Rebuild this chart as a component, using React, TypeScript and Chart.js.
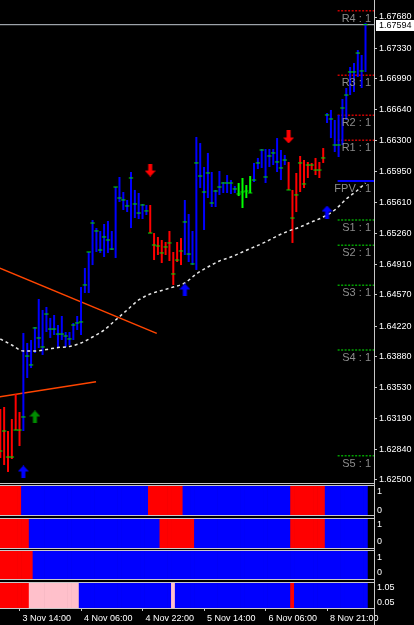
import React, { useEffect, useRef } from 'react';
import { Chart, registerables } from 'chart.js';

Chart.register(...registerables);

// ---------------- data ----------------
const barHigh = [
  1.63294, 1.63317, 1.63048, 1.63182, 1.63462, 1.63261, 1.64145, 1.64033, 1.64066, 1.64212,
  1.64525, 1.64402, 1.64436, 1.64313, 1.64346, 1.64234, 1.64335, 1.64156, 1.64156, 1.64257,
  1.64335, 1.64659, 1.64872, 1.65051, 1.65409, 1.65319, 1.65286, 1.65364, 1.65398, 1.65286,
  1.65778, 1.65890, 1.65722, 1.65633, 1.65946, 1.65745, 1.65711, 1.65588, 1.65577, 1.65577,
  1.65263, 1.65219, 1.65185, 1.65163, 1.65286, 1.65051, 1.65163, 1.65207, 1.65633, 1.65476,
  1.65286, 1.66338, 1.66270, 1.66002, 1.66159, 1.65946, 1.65745, 1.65957, 1.65834, 1.65912,
  1.65856, 1.65789, 1.65823, 1.65879, 1.65800, 1.65901, 1.66047, 1.66103, 1.66203, 1.66203,
  1.66203, 1.66203, 1.66326, 1.66192, 1.66136, 1.66058, 1.65745, 1.65935, 1.66125, 1.66080,
  1.66058, 1.66047, 1.66103, 1.66058, 1.66214, 1.66606, 1.66640, 1.66528, 1.66584, 1.66763,
  1.66886, 1.67121, 1.67165, 1.67311, 1.67255, 1.67613,
];
const barLow = [
  1.62746, 1.62668, 1.62590, 1.62735, 1.63059, 1.62880, 1.63048, 1.63641, 1.63753, 1.63921,
  1.63977, 1.63899, 1.64156, 1.64089, 1.64122, 1.63988, 1.64066, 1.63988, 1.64010, 1.64066,
  1.64178, 1.64122, 1.64592, 1.64592, 1.64905, 1.65051, 1.65040, 1.64995, 1.65040, 1.65073,
  1.64984, 1.65610, 1.65521, 1.65498, 1.65319, 1.65431, 1.65420, 1.65420, 1.65465, 1.65263,
  1.64961, 1.65017, 1.64928, 1.65017, 1.64950, 1.64682, 1.64939, 1.64905, 1.65017, 1.64939,
  1.64905, 1.64850, 1.65767, 1.65297, 1.65655, 1.65554, 1.65554, 1.65689, 1.65711, 1.65711,
  1.65700, 1.65711, 1.65677, 1.65543, 1.65655, 1.65711, 1.65834, 1.65979, 1.65991, 1.65823,
  1.66002, 1.66024, 1.65946, 1.65856, 1.66024, 1.65745, 1.65152, 1.65498, 1.65722, 1.65767,
  1.65879, 1.65968, 1.65912, 1.65879, 1.66047, 1.66494, 1.66326, 1.66170, 1.66114, 1.66248,
  1.66528, 1.66807, 1.66841, 1.67009, 1.66886, 1.67065,
];
const barClose = [
  1.62824, 1.63048, 1.62757, 1.62757, 1.63059, 1.63059, 1.63205, 1.63887, 1.63787, 1.64201,
  1.64089, 1.63988, 1.64357, 1.64189, 1.64189, 1.64133, 1.64133, 1.64111, 1.64078, 1.64234,
  1.64257, 1.64268, 1.64682, 1.65051, 1.65375, 1.65286, 1.65073, 1.65219, 1.65185, 1.65084,
  1.65778, 1.65655, 1.65633, 1.65566, 1.65879, 1.65588, 1.65487, 1.65577, 1.65510, 1.65263,
  1.65129, 1.65118, 1.65040, 1.65107, 1.65152, 1.64805, 1.64961, 1.65062, 1.65387, 1.65028,
  1.64917, 1.66047, 1.65901, 1.65722, 1.65935, 1.65599, 1.65733, 1.65778, 1.65823, 1.65823,
  1.65823, 1.65756, 1.65700, 1.65722, 1.65733, 1.65711, 1.65856, 1.66047, 1.66192, 1.65890,
  1.66125, 1.66159, 1.66058, 1.65991, 1.66080, 1.65745, 1.65431, 1.65689, 1.66047, 1.65812,
  1.66024, 1.66024, 1.65968, 1.65968, 1.66103, 1.66584, 1.66539, 1.66248, 1.66248, 1.66662,
  1.66807, 1.67065, 1.67065, 1.67277, 1.67076, 1.67594,
];
// bar colour runs: r = bear (red), b = bull (blue), g = lime
const barColorRuns: [string, number][] = [['r', 6], ['b', 33], ['r', 9], ['b', 14], ['g', 4], ['b', 9], ['r', 10], ['b', 11]];

const priceTicks = [1.6768, 1.6733, 1.6699, 1.6664, 1.663, 1.6595, 1.6561, 1.6526, 1.6491, 1.6457, 1.6422, 1.6388, 1.6353, 1.6319, 1.6284, 1.625];
const currentPrice = 1.67594;

const maBars = [1, 4, 7, 10, 13, 16, 19, 22, 25, 28, 31, 34, 37, 40, 43, 46, 49, 52, 55, 58, 61, 64, 67, 70, 73, 76, 79, 82, 85, 88, 91, 94, 96];
const maValues = [
  1.64078, 1.6401, 1.63943, 1.63943, 1.6396, 1.63982, 1.63994, 1.64033, 1.641, 1.64178,
  1.6429, 1.64402, 1.64514, 1.64581, 1.6462, 1.64659, 1.64704, 1.64805, 1.64883, 1.6495,
  1.64995, 1.65051, 1.65107, 1.65163, 1.6523, 1.65286, 1.65331, 1.65387, 1.65442, 1.65521,
  1.65644, 1.65745, 1.65823,
];

const pivotNames = ['R4', 'R3', 'R2', 'R1', 'FPV', 'S1', 'S2', 'S3', 'S4', 'S5'];
const pivotLevels = [1.67751, 1.67028, 1.6658, 1.66301, 1.65845, 1.65409, 1.65126, 1.64678, 1.63954, 1.62772];
const pivotSessionStart = 88.75;

const trendDownBars = [0.9, 41.7];
const trendDownPrices = [1.64869, 1.64141];
const trendUpBars = [0.9, 25.9];
const trendUpPrices = [1.63432, 1.636];

const sellArrowBars = [40, 76];
const sellArrowPrices = [1.65968, 1.66338];
const buyArrowBars = [7, 49, 86];
const buyArrowPrices = [1.6259, 1.64626, 1.65498];
const signalArrowBars = [10];
const signalArrowPrices = [1.63205];

const timeTickBars = [6, 22, 38, 54, 70, 86];
const timeLabels = ['3 Nov 14:00', '4 Nov 06:00', '4 Nov 22:00', '5 Nov 14:00', '6 Nov 06:00', '8 Nov 21:00'];

const panel1Runs: [string, number][] = [['r', 6], ['b', 33], ['r', 9], ['b', 28], ['r', 9], ['b', 11]];
const panel2Runs: [string, number][] = [['r', 8], ['b', 34], ['r', 9], ['b', 25], ['r', 9], ['b', 11]];
const panel3Runs: [string, number][] = [['r', 9], ['b', 87]];
const panel4Runs: [string, number][] = [['r', 8], ['p', 13], ['b', 24], ['p', 1], ['b', 30], ['r', 1], ['b', 19]];

// ---------------- helpers ----------------
const COLORS: Record<string, string> = { r: '#FF0000', b: '#0000FF', g: '#00FF00', p: '#FFC0CB' };
const X_MIN = 0.922;
const X_MAX = 98.21;
const FONT = 'Liberation Sans';
const FRAME = '#C8C8C8';

function expandRuns(runs: [string, number][]) {
  const out: string[] = [];
  runs.forEach(([s, n]) => {
    for (let k = 0; k < n; k++) out.push(s);
  });
  return out;
}

function noPad(s: any) {
  s.paddingTop = 0;
  s.paddingBottom = 0;
  s.paddingLeft = 0;
  s.paddingRight = 0;
}

function makeArrow(color: string, up: boolean) {
  const c = document.createElement('canvas');
  c.width = 11;
  c.height = 13;
  const g = c.getContext('2d')!;
  g.fillStyle = color;
  const pts = [[5.5, 0], [11, 6], [7.5, 6], [7.5, 13], [3.5, 13], [3.5, 6], [0, 6]];
  g.beginPath();
  pts.forEach(([x, y], i) => {
    const yy = up ? y : 13 - y;
    if (i === 0) g.moveTo(x, yy);
    else g.lineTo(x, yy);
  });
  g.closePath();
  g.fill();
  return c;
}

const framePlugin = {
  id: 'frame',
  afterDraw(chart: any) {
    const { ctx, chartArea: a } = chart;
    ctx.save();
    ctx.strokeStyle = FRAME;
    ctx.lineWidth = 1;
    ctx.beginPath();
    if (chart.options.$panel) {
      ctx.moveTo(0, a.top - 0.5);
      ctx.lineTo(a.right + 1, a.top - 0.5);
    }
    ctx.moveTo(0, a.bottom + 0.5);
    ctx.lineTo(a.right + 1, a.bottom + 0.5);
    ctx.moveTo(a.right + 0.5, 0);
    ctx.lineTo(a.right + 0.5, chart.height);
    ctx.stroke();
    ctx.restore();
  },
};

function panelConfig(runs: [string, number][], yMin: number, yMax: number, tickVals: number[], tickText: string[], withTime: boolean, padBottom: number) {
  const states = expandRuns(runs);
  return {
    type: 'bar',
    data: {
      datasets: [
        {
          data: states.map((s, i) => ({ x: i + 1, y: [yMin, yMax] })),
          backgroundColor: states.map((s) => COLORS[s]),
          borderWidth: 0,
          barPercentage: 1,
          categoryPercentage: 1,
          grouped: false,
        },
      ],
    },
    options: {
      $panel: true,
      responsive: false,
      animation: false,
      devicePixelRatio: 1,
      events: [],
      layout: { autoPadding: false, padding: { top: 1, bottom: padBottom, left: 0, right: 0 } },
      plugins: { legend: { display: false }, tooltip: { enabled: false } },
      scales: {
        x: {
          type: 'linear',
          min: X_MIN,
          max: X_MAX,
          offset: false,
          display: withTime,
          grid: { display: true, drawOnChartArea: false, drawTicks: true, tickLength: 3, color: FRAME, offset: false },
          border: { display: false },
          afterBuildTicks: (s: any) => {
            s.ticks = timeTickBars.map((v) => ({ value: v }));
          },
          afterFit: (s: any) => {
            s.height = withTime ? 17 : 0;
            noPad(s);
          },
          ticks: {
            color: '#FFFFFF',
            font: { family: FONT, size: 9 },
            padding: 2,
            align: 'start',
            labelOffset: 3,
            autoSkip: false,
            maxRotation: 0,
            callback: (_v: any, i: number) => timeLabels[i],
          },
        },
        y: {
          type: 'linear',
          position: 'right',
          min: yMin,
          max: yMax,
          grid: { display: false, drawOnChartArea: false, drawTicks: false },
          border: { display: false },
          afterBuildTicks: (s: any) => {
            s.ticks = tickVals.map((v) => ({ value: v }));
          },
          afterFit: (s: any) => {
            s.width = 40;
            noPad(s);
          },
          ticks: {
            color: '#FFFFFF',
            font: { family: FONT, size: 9 },
            padding: 3,
            autoSkip: false,
            callback: (_v: any, i: number) => tickText[i],
          },
        },
      },
    },
    plugins: [framePlugin],
  };
}

export default function App() {
  const mainRef = useRef<HTMLCanvasElement>(null);
  const p1Ref = useRef<HTMLCanvasElement>(null);
  const p2Ref = useRef<HTMLCanvasElement>(null);
  const p3Ref = useRef<HTMLCanvasElement>(null);
  const p4Ref = useRef<HTMLCanvasElement>(null);

  useEffect(() => {
    document.body.style.margin = '0';
    document.body.style.background = '#000';
    const charts: Chart[] = [];

    const colors = expandRuns(barColorRuns);
    const sellImg = makeArrow('#FF0000', false);
    const buyImg = makeArrow('#0000FF', true);
    const sigImg = makeArrow('#008C00', true);

    const line = (xs: number[], ys: number[]) => xs.map((x, i) => ({ x, y: ys[i] }));

    const pivotSets = pivotNames.map((n, i) => {
      const kind = n[0];
      const color = kind === 'R' ? '#CC0000' : kind === 'S' ? '#00A000' : '#0000FF';
      return {
        type: 'line',
        order: 5,
        data: [
          { x: pivotSessionStart, y: pivotLevels[i] },
          { x: X_MAX, y: pivotLevels[i] },
        ],
        borderColor: color,
        borderWidth: kind === 'F' ? 2 : 1.5,
        borderDash: kind === 'F' ? [] : [2, 1.5],
        pointRadius: 0,
      };
    });

    const mainDecor = {
      id: 'mainDecor',
      afterDatasetsDraw(chart: any) {
        const { ctx, chartArea: a } = chart;
        const ys = chart.scales.y;
        ctx.save();
        ctx.font = `11px ${FONT}`;
        ctx.fillStyle = '#8C8C8C';
        ctx.textAlign = 'right';
        ctx.textBaseline = 'alphabetic';
        pivotNames.forEach((n, i) => {
          const y = ys.getPixelForValue(pivotLevels[i]);
          ctx.fillText(`${n} : 1`, a.right - 3, y + 11);
        });
        ctx.restore();
      },
      afterDraw(chart: any) {
        const { ctx, chartArea: a } = chart;
        const y = chart.scales.y.getPixelForValue(currentPrice);
        ctx.save();
        ctx.fillStyle = '#FFFFFF';
        ctx.fillRect(a.right + 2, Math.round(y) - 5, 40, 11);
        ctx.fillStyle = '#000000';
        ctx.font = `9px ${FONT}`;
        ctx.textAlign = 'left';
        ctx.textBaseline = 'middle';
        ctx.fillText(currentPrice.toFixed(5), a.right + 5, Math.round(y) + 0.5);
        ctx.restore();
      },
    };

    const main = new Chart(mainRef.current!, {
      type: 'bar',
      data: {
        datasets: [
          {
            type: 'scatter',
            order: 0,
            data: line(sellArrowBars, sellArrowPrices),
            pointStyle: sellImg,
            pointRadius: 5,
          },
          {
            type: 'scatter',
            order: 0,
            data: line(buyArrowBars, buyArrowPrices),
            pointStyle: buyImg,
            pointRadius: 5,
          },
          {
            type: 'scatter',
            order: 0,
            data: line(signalArrowBars, signalArrowPrices),
            pointStyle: sigImg,
            pointRadius: 5,
          },
          {
            type: 'scatter',
            order: 1,
            data: barClose.map((c, i) => ({ x: i + 1, y: c })),
            pointStyle: 'line',
            pointRadius: 2.2,
            pointBorderWidth: 1,
            borderColor: '#00E000',
            backgroundColor: '#00E000',
          },
          {
            type: 'line',
            order: 2,
            data: line(maBars, maValues),
            borderColor: '#E6E6E6',
            borderWidth: 1.5,
            borderDash: [3, 3],
            pointRadius: 0,
            cubicInterpolationMode: 'monotone',
          },
          {
            type: 'bar',
            order: 3,
            data: barHigh.map((h, i) => ({ x: i + 1, y: [barLow[i], h] })),
            backgroundColor: colors.map((c) => COLORS[c]),
            borderWidth: 0,
            barThickness: 2,
            grouped: false,
            inflateAmount: 0,
          },
          {
            type: 'line',
            order: 4,
            data: line(trendDownBars, trendDownPrices),
            borderColor: '#FF4500',
            borderWidth: 1.5,
            pointRadius: 0,
          },
          {
            type: 'line',
            order: 4,
            data: line(trendUpBars, trendUpPrices),
            borderColor: '#FF4500',
            borderWidth: 1.5,
            pointRadius: 0,
          },
          ...pivotSets,
          {
            type: 'line',
            order: 6,
            data: [
              { x: X_MIN, y: currentPrice },
              { x: X_MAX, y: currentPrice },
            ],
            borderColor: '#C0C8D0',
            borderWidth: 1,
            pointRadius: 0,
          },
        ] as any,
      },
      options: {
        responsive: false,
        animation: false,
        devicePixelRatio: 1,
        events: [],
        layout: { autoPadding: false, padding: { top: 0, bottom: 2, left: 0, right: 0 } },
        plugins: { legend: { display: false }, tooltip: { enabled: false } },
        scales: {
          x: {
            type: 'linear',
            min: X_MIN,
            max: X_MAX,
            offset: false,
            display: false,
            grid: { display: false, offset: false },
          },
          y: {
            type: 'linear',
            position: 'right',
            min: 1.624664,
            max: 1.678703,
            grid: { display: true, drawOnChartArea: false, drawTicks: true, tickLength: 3, color: FRAME },
            border: { display: false },
            afterBuildTicks: (s: any) => {
              s.ticks = priceTicks.map((v) => ({ value: v }));
            },
            afterFit: (s: any) => {
              s.width = 40;
              noPad(s);
            },
            ticks: {
              color: '#FFFFFF',
              font: { family: FONT, size: 9 },
              padding: 2,
              autoSkip: false,
              callback: (v: any) => Number(v).toFixed(5),
            },
          },
        },
      } as any,
      plugins: [framePlugin, mainDecor],
    } as any);
    charts.push(main);

    charts.push(new Chart(p1Ref.current!, panelConfig(panel1Runs, -0.21, 1.316, [1, 0], ['1', '0'], false, 3) as any));
    charts.push(new Chart(p2Ref.current!, panelConfig(panel2Runs, -0.353, 1.353, [1, 0], ['1', '0'], false, 2) as any));
    charts.push(new Chart(p3Ref.current!, panelConfig(panel3Runs, -0.41, 1.41, [1, 0], ['1', '0'], false, 3) as any));
    charts.push(new Chart(p4Ref.current!, panelConfig(panel4Runs, -0.277, 1.357, [1.05, 0.05], ['1.05', '0.05'], true, 0) as any));

    return () => charts.forEach((c) => c.destroy());
  }, []);

  const abs = (top: number, h: number): React.CSSProperties => ({
    position: 'absolute',
    left: 0,
    top,
    width: 414,
    height: h,
    display: 'block',
  });

  return (
    <div style={{ position: 'fixed', left: 0, top: 0, width: 414, height: 625, background: '#000', overflow: 'hidden' }}>
      <canvas ref={mainRef} width={414} height={485} style={abs(0, 485)} />
      <canvas ref={p1Ref} width={414} height={33} style={abs(485, 33)} />
      <canvas ref={p2Ref} width={414} height={32} style={abs(518, 32)} />
      <canvas ref={p3Ref} width={414} height={32} style={abs(550, 32)} />
      <canvas ref={p4Ref} width={414} height={43} style={abs(582, 43)} />
    </div>
  );
}
